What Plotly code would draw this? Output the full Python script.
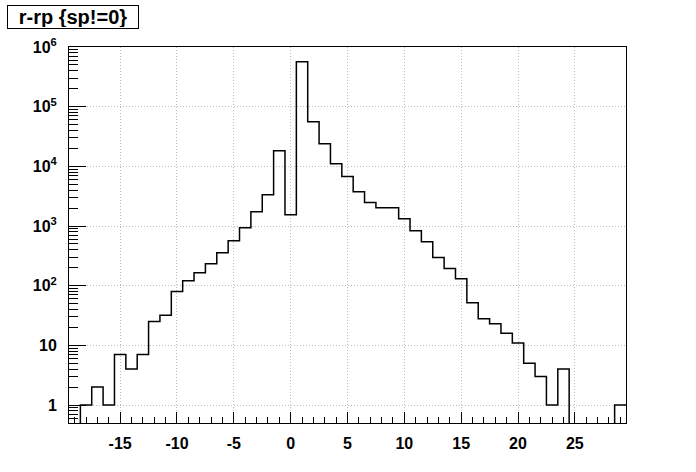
import numpy as np
import plotly.graph_objects as go

# ---- data ----
bin_centers = list(range(-19, 30))  # bins of width 1 from -19.5 to 29.5
counts = [0, 1, 2, 1, 7, 4, 7, 25, 32, 80,
          121, 165, 234, 357, 567, 936, 1738, 3342, 18250, 1547,
          565000, 55800, 23900, 11070, 6770, 3750, 2480, 2020, 2020, 1325,
          834, 546, 298, 195, 131, 52, 28, 23, 16, 11,
          5, 3, 1, 4, 0, 0, 0, 0, 1]
x_tickvals = [-15, -10, -5, 0, 5, 10, 15, 20, 25]
x_ticktext = ["-15", "-10", "-5", "0", "5", "10", "15", "20", "25"]
y_tickvals = [1, 10, 100, 1000, 1e4, 1e5, 1e6]
y_ticktext = ["1", "10", "10<sup>2</sup>", "10<sup>3</sup>", "10<sup>4</sup>",
              "10<sup>5</sup>", "10<sup>6</sup>"]
title_text = "r-rp {sp!=0}"

# ---- geometry ----
W, H = 696, 472
ML, MR, MT, MB = 69, 70, 47, 49
xr = [-19.5, 29.5]
yr = [np.log10(0.5), 6.0]
floor = 10 ** (yr[0] - 0.5)

c = np.array(counts, dtype=float)
edges = np.array(bin_centers, dtype=float) - 0.5
xs = np.append(edges, edges[-1] + 1.0)
ys = np.where(c > 0, c, floor)
ys = np.append(ys, ys[-1])

minor_y = [k * 10.0 ** d for d in range(-1, 6) for k in range(2, 10)]
minor_y = [v for v in minor_y if np.log10(v) > yr[0] and np.log10(v) < yr[1]]

FONT = "Liberation Sans, Arial, Helvetica, sans-serif"
GRID = "#bebebe"

fig = go.Figure()
fig.add_trace(go.Scatter(x=xs, y=ys, mode="lines", line=dict(shape="hv", color="black", width=1.5),
                         hoverinfo="skip", showlegend=False))

fig.update_layout(
    width=W, height=H,
    margin=dict(l=ML, r=MR, t=MT, b=MB),
    paper_bgcolor="white", plot_bgcolor="white",
    font=dict(family=FONT, color="black"),
    showlegend=False,
)
fig.update_xaxes(
    range=xr, showline=True, linecolor="black", linewidth=1, mirror=True,
    tickmode="array", tickvals=x_tickvals, ticktext=x_ticktext,
    ticks="inside", ticklen=11, tickcolor="black", tickwidth=1,
    tickfont=dict(family=FONT, size=16, weight="bold", color="black"),
    ticklabelstandoff=6,
    showgrid=True, gridcolor=GRID, griddash="1px,2px", gridwidth=1,
    zeroline=False,
    minor=dict(ticks="inside", ticklen=6, tickmode="linear", tick0=0, dtick=1,
               tickcolor="black", showgrid=False),
)
fig.update_yaxes(
    type="log", range=yr, showline=True, linecolor="black", linewidth=1, mirror=True,
    tickmode="array", tickvals=y_tickvals, ticktext=y_ticktext,
    ticks="inside", ticklen=17, tickcolor="black", tickwidth=1,
    tickfont=dict(family=FONT, size=16, weight="bold", color="black"),
    ticklabelstandoff=8,
    showgrid=True, gridcolor=GRID, griddash="1px,2px", gridwidth=1,
    zeroline=False,
    minor=dict(ticks="inside", ticklen=9, tickmode="array", tickvals=minor_y,
               tickcolor="black", showgrid=False),
)

pw = W - ML - MR
ph = H - MT - MB
bx, by = 7, 5  # top-left of title box in pixels
fig.add_annotation(
    text="<b>" + title_text + "</b>", xref="paper", yref="paper",
    x=(bx - ML) / pw, y=(H - MB - by) / ph, xanchor="left", yanchor="top",
    showarrow=False, font=dict(family=FONT, size=20, color="black"),
    bordercolor="black", borderwidth=1, borderpad=1, bgcolor="white",
    width=128, height=20, align="center", valign="middle",
)

fig.write_html("out.html", config={"displayModeBar": False},
               post_script="document.body.style.margin='0';document.body.style.padding='0';")
